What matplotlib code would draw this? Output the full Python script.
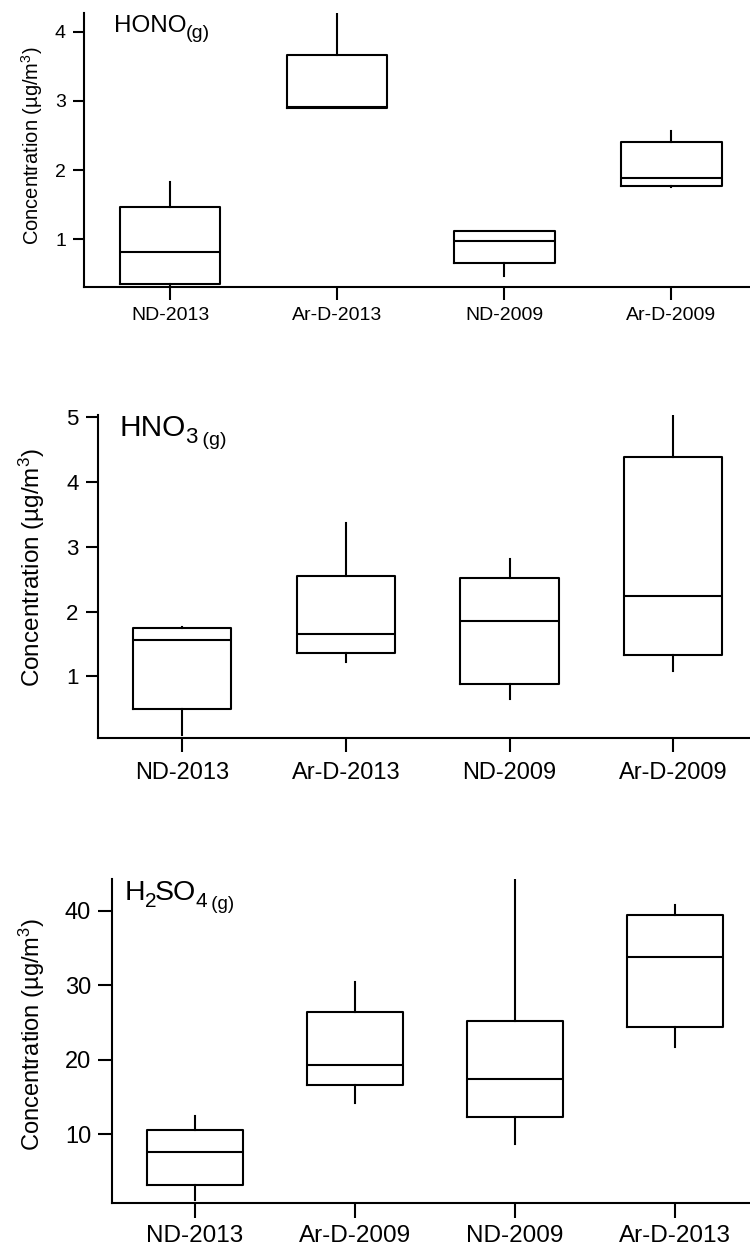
import matplotlib
matplotlib.use("Agg")
import matplotlib.pyplot as plt

plt.rcParams["font.family"] = ["Liberation Sans", "DejaVu Sans"]
plt.rcParams["mathtext.fontset"] = "custom"
plt.rcParams["mathtext.rm"] = "Liberation Sans"
plt.rcParams["mathtext.it"] = "Liberation Sans:italic"
plt.rcParams["mathtext.bf"] = "Liberation Sans:bold"

# HONO (g)
hono_labels = ["ND-2013", "Ar-D-2013", "ND-2009", "Ar-D-2009"]
hono_whislo = [0.33, 2.89, 0.475, 1.76]
hono_q1 = [0.355, 2.90, 0.65, 1.77]
hono_med = [0.82, 2.91, 0.98, 1.88]
hono_q3 = [1.46, 3.66, 1.12, 2.41]
hono_whishi = [1.83, 4.5, 1.12, 2.57]

# HNO3 (g)
hno3_labels = ["ND-2013", "Ar-D-2013", "ND-2009", "Ar-D-2009"]
hno3_whislo = [0.10, 1.22, 0.65, 1.09]
hno3_q1 = [0.49, 1.36, 0.89, 1.33]
hno3_med = [1.565, 1.66, 1.86, 2.24]
hno3_q3 = [1.745, 2.55, 2.51, 4.38]
hno3_whishi = [1.76, 3.37, 2.81, 5.05]

# H2SO4 (g)
h2so4_labels = ["ND-2013", "Ar-D-2009", "ND-2009", "Ar-D-2013"]
h2so4_whislo = [1.13, 14.2, 8.66, 21.7]
h2so4_q1 = [3.24, 16.64, 12.28, 24.35]
h2so4_med = [7.58, 19.29, 17.4, 33.85]
h2so4_q3 = [10.58, 26.4, 25.2, 39.46]
h2so4_whishi = [12.4, 30.5, 45.0, 40.77]

W, H = 750, 1256
LW = 1.5
fig = plt.figure(figsize=(W / 100, H / 100), dpi=100)
renderer = fig.canvas.get_renderer()


def px_axes(left, top, bottom):
    return fig.add_axes([left / W, 1 - bottom / H, 1 - left / W, (bottom - top) / H])


def boxes(ax, labels, lo, q1, med, q3, hi):
    stats = []
    for i in range(len(labels)):
        stats.append(dict(whislo=lo[i], q1=q1[i], med=med[i], q3=q3[i], whishi=hi[i], fliers=[]))
    ax.bxp(stats, positions=range(len(labels)), widths=0.6, showcaps=False,
           showfliers=False,
           boxprops=dict(color="black", linewidth=LW),
           whiskerprops=dict(color="black", linewidth=LW),
           medianprops=dict(color="black", linewidth=LW))
    ax.spines["top"].set_visible(False)
    ax.spines["right"].set_visible(False)
    ax.spines["left"].set_linewidth(LW)
    ax.spines["bottom"].set_linewidth(LW)
    ax.set_xticks(range(len(labels)))
    ax.set_xticklabels(labels)


def chem_label(x, base, parts):
    # parts: (text, fontsize, baseline drop in px); pieces are laid out left to right
    for txt, fs, drop in parts:
        t = fig.text(x / W, 1 - (base + drop) / H, txt, fontsize=fs, va="baseline", ha="left")
        x += t.get_window_extent(renderer).width - 1


panels = [
    dict(box=(84, 13, 287), ylim=(0.31, 4.27), yticks=[1, 2, 3, 4],
         ytick_fs=14, xtick_fs=14, ylab_fs=14.5, tlen=9, xpad=5.5,
         title=(114, 31.5, [("HONO", 17.5, 0), ("(g)", 14, 6.5)]), ylab_y=146,
         data=(hono_labels, hono_whislo, hono_q1, hono_med, hono_q3, hono_whishi)),
    dict(box=(98, 415, 738), ylim=(0.05, 5.03), yticks=[1, 2, 3, 4, 5],
         ytick_fs=16, xtick_fs=17, ylab_fs=17.5, tlen=10, xpad=7,
         title=(120, 436, [("HNO", 21.5, 0), ("3", 16, 7), (" (g)", 14, 9)]), ylab_y=567,
         data=(hno3_labels, hno3_whislo, hno3_q1, hno3_med, hno3_q3, hno3_whishi)),
    dict(box=(112, 879, 1203), ylim=(0.77, 44.26), yticks=[10, 20, 30, 40],
         ytick_fs=17, xtick_fs=17.5, ylab_fs=17, tlen=11, xpad=4.5,
         title=(125, 900, [("H", 20.5, 0), ("2", 15, 7), ("SO", 20.5, 0), ("4", 15, 7),
                           (" (g)", 13.5, 9)]), ylab_y=1034,
         data=(h2so4_labels, h2so4_whislo, h2so4_q1, h2so4_med, h2so4_q3, h2so4_whishi)),
]

for p in panels:
    ax = px_axes(*p["box"])
    boxes(ax, *p["data"])
    ax.set_xlim(-0.516, 3.47)
    ax.set_ylim(*p["ylim"])
    ax.set_yticks(p["yticks"])
    ax.tick_params(axis="x", direction="out", length=p["tlen"], width=LW,
                   labelsize=p["xtick_fs"], pad=p["xpad"])
    ax.tick_params(axis="y", direction="out", length=p["tlen"] - 1, width=LW,
                   labelsize=p["ytick_fs"], pad=5)
    chem_label(*p["title"])
    fig.text(32 / W, 1 - p["ylab_y"] / H, "Concentration (µg/m$^{3}$)",
             fontsize=p["ylab_fs"], rotation=90, ha="center", va="center")

fig.savefig("out.png", dpi=100)
